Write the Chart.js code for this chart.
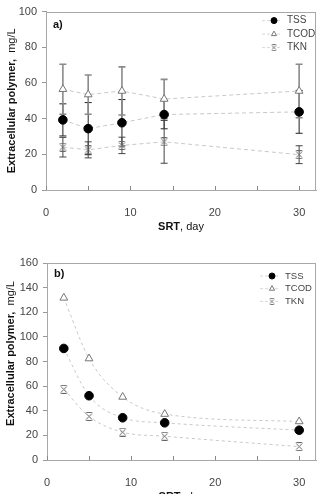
<!DOCTYPE html>
<html><head><meta charset="utf-8">
<script src="https://cdn.jsdelivr.net/npm/chart.js@4/dist/chart.umd.min.js"></script>
<style>
html,body{margin:0;padding:0;background:#fff;width:322px;height:494px;overflow:hidden;position:relative;}
.wrap{position:absolute;left:0;width:322px;}
#w1{top:0;height:240px}
#w2{top:240px;height:270px}
canvas{display:block}
</style></head><body>
<div class="wrap" id="w1"><canvas id="c1" width="322" height="240"></canvas></div>
<div class="wrap" id="w2"><canvas id="c2" width="322" height="270"></canvas></div>
<script>
// ---- data ----
const srtDays = [2, 5, 9, 14, 30];
const xTickValues = [0, 10, 20, 30];
const xMinorTicks = [0, 5, 10, 15, 20, 25, 30];
const yTicksA = [0, 20, 40, 60, 80, 100];
const yTicksB = [0, 20, 40, 60, 80, 100, 120, 140, 160];
const seriesNames = ['TSS', 'TCOD', 'TKN'];

// panel a) with standard deviations
const tssA = [39.3, 34.4, 37.7, 42.3, 43.8];
const tcodA = [56.5, 53.5, 55.5, 51.0, 55.5];
const tknA = [24.0, 22.5, 25.0, 27.0, 19.8];
const tssErrA = [9.0, 14.6, 13.0, 8.0, 12.0];
const tcodErrA = [14.0, 11.0, 13.5, 11.0, 15.0];
const tknErrA = [5.5, 4.5, 4.6, 12.0, 5.0];

// panel b)
const tssB = [90.6, 52.2, 34.3, 30.2, 24.2];
const tcodB = [131.7, 82.4, 51.2, 37.3, 31.3];
const tknB = [57.4, 35.4, 22.6, 19.3, 10.9];

// ---- helpers ----
const FONT = '"Liberation Sans", Arial, sans-serif';
function pts(ys) { return srtDays.map((x, i) => ({ x: x, y: ys[i] })); }
function makeTkn(color, size, lw) {
  const c = document.createElement('canvas');
  c.width = size; c.height = size;
  const g = c.getContext('2d');
  g.strokeStyle = color; g.lineWidth = lw;
  g.beginPath();
  g.moveTo(1.5, 1.5); g.lineTo(size - 1.5, size - 1.5);
  g.moveTo(size - 1.5, 1.5); g.lineTo(1.5, size - 1.5);
  g.moveTo(1.5, 0.5); g.lineTo(size - 1.5, 0.5);
  g.moveTo(1.5, size - 0.5); g.lineTo(size - 1.5, size - 0.5);
  g.stroke();
  return c;
}
const tknImg = makeTkn('#666', 9, 1);
const tknLegImg = makeTkn('#777', 7, 1);

function makeDatasets(tss, tcod, tkn, errs, tension, dash) {
  const base = { showLine: true, borderColor: '#c8c8c8', borderWidth: 1, borderDash: dash, tension: tension, cubicInterpolationMode: tension ? 'monotone' : 'default' };
  return [
    Object.assign({}, base, { label: seriesNames[0], data: pts(tss), pointStyle: 'circle', pointRadius: 4.3, pointBackgroundColor: '#000', pointBorderColor: '#000', pointBorderWidth: 1, errors: errs ? errs[0] : null, errColor: '#222', errWidth: 1 }),
    Object.assign({}, base, { label: seriesNames[1], data: pts(tcod), pointStyle: 'triangle', pointRadius: 4.5, pointBackgroundColor: '#fff', pointBorderColor: '#777', pointBorderWidth: 1, errors: errs ? errs[1] : null, errColor: '#8a8a8a', errWidth: 1.6 }),
    Object.assign({}, base, { label: seriesNames[2], data: pts(tkn), pointStyle: tknImg, pointRadius: 4.5, pointBackgroundColor: '#666', pointBorderColor: '#666', pointBorderWidth: 1, errors: errs ? errs[2] : null, errColor: '#444', errWidth: 1 })
  ];
}

const panelPlugin = {
  id: 'panel',
  beforeDatasetsDraw(chart, args, opts) {
    const ctx = chart.ctx, a = chart.chartArea, xs = chart.scales.x, ys = chart.scales.y;
    ctx.save();
    // frame
    ctx.strokeStyle = '#a8a8a8'; ctx.lineWidth = 1;
    ctx.strokeRect(Math.round(a.left) + 0.5, Math.round(a.top) + 0.5, Math.round(a.right - a.left) - 1, Math.round(a.bottom - a.top));
    // inward minor x ticks
    ctx.strokeStyle = '#888';
    ctx.beginPath();
    xMinorTicks.forEach(v => {
      const px = Math.round(xs.getPixelForValue(v)) + 0.5;
      ctx.moveTo(px, a.bottom); ctx.lineTo(px, a.bottom - 4);
    });
    ctx.stroke();
    // error bars
    chart.data.datasets.forEach(ds => {
      if (!ds.errors) return;
      ctx.strokeStyle = ds.errColor; ctx.lineWidth = ds.errWidth;
      ds.data.forEach((p, i) => {
        const px = xs.getPixelForValue(p.x);
        const yh = ys.getPixelForValue(p.y + ds.errors[i]);
        const yl = ys.getPixelForValue(p.y - ds.errors[i]);
        ctx.beginPath();
        ctx.moveTo(px, yh); ctx.lineTo(px, yl);
        ctx.moveTo(px - 3.5, yh); ctx.lineTo(px + 3.5, yh);
        ctx.moveTo(px - 3.5, yl); ctx.lineTo(px + 3.5, yl);
        ctx.stroke();
      });
    });
    ctx.restore();
  },
  afterDraw(chart, args, opts) {
    const ctx = chart.ctx, a = chart.chartArea;
    ctx.save();
    // panel letter
    ctx.fillStyle = '#111'; ctx.font = 'bold 11px ' + FONT;
    ctx.textBaseline = 'middle'; ctx.textAlign = 'left';
    ctx.fillText(opts.letter, a.left + 7, a.top + opts.letterDy);
    // legend
    ctx.font = opts.legendFont + 'px ' + FONT;
    chart.data.datasets.forEach((ds, i) => {
      const y = a.top + opts.legTop + i * opts.legDy;
      ctx.strokeStyle = '#d8d8d8'; ctx.lineWidth = 1; ctx.setLineDash([3, 2]);
      ctx.beginPath(); ctx.moveTo(opts.legX - 12, y); ctx.lineTo(opts.legX + 8, y); ctx.stroke();
      ctx.setLineDash([]);
      ctx.fillStyle = ds.pointBackgroundColor; ctx.strokeStyle = ds.pointBorderColor; ctx.lineWidth = 1;
      if (ds.label === 'TKN') {
        ctx.drawImage(tknLegImg, opts.legX - 3.5, y - 3.5);
      } else {
        Chart.helpers.drawPoint(ctx, { pointStyle: ds.pointStyle, radius: 3, rotation: 0, borderWidth: 1 }, opts.legX, y);
      }
      ctx.fillStyle = '#444';
      ctx.fillText(ds.label, opts.legX + 13, y);
    });
    // axis titles with mixed weights
    ctx.fillStyle = '#111';
    const yParts = [['bold 11px ' + FONT, 'Extracellular polymer,  '], ['11px ' + FONT, 'mg/L']];
    let tot = 0; yParts.forEach(p => { ctx.font = p[0]; tot += ctx.measureText(p[1]).width; });
    ctx.translate(opts.yTitleX, (a.top + a.bottom) / 2 + opts.yTitleShift);
    ctx.rotate(-Math.PI / 2);
    let cx = -tot / 2;
    yParts.forEach(p => { ctx.font = p[0]; ctx.fillText(p[1], cx, 0); cx += ctx.measureText(p[1]).width; });
    ctx.setTransform(1, 0, 0, 1, 0, 0);
    const xParts = [['bold 11px ' + FONT, 'SRT'], ['11px ' + FONT, ', day']];
    tot = 0; xParts.forEach(p => { ctx.font = p[0]; tot += ctx.measureText(p[1]).width; });
    cx = (a.left + a.right) / 2 - tot / 2;
    xParts.forEach(p => { ctx.font = p[0]; ctx.fillText(p[1], cx, a.bottom + 37); cx += ctx.measureText(p[1]).width; });
    ctx.restore();
  }
};

function makeOptions(yMax, yTicks, padTop, yWidth, pan) {
  return {
    responsive: false,
    animation: false,
    layout: { padding: { top: padTop, right: 6, left: 0, bottom: 0 } },
    plugins: { legend: { display: false }, tooltip: { enabled: false }, panel: pan },
    scales: {
      x: {
        type: 'linear', min: 0, max: 32,
        afterBuildTicks: s => { s.ticks = xTickValues.map(v => ({ value: v })); },
        afterFit: s => { s.height = 50; },
        grid: { display: false },
        border: { display: true, color: '#a8a8a8' },
        ticks: { padding: 8, color: '#444', font: { family: FONT, size: 11 } }
      },
      y: {
        min: 0, max: yMax,
        afterBuildTicks: s => { s.ticks = yTicks.map(v => ({ value: v })); },
        afterFit: s => { s.width = yWidth; },
        grid: { drawOnChartArea: false, drawTicks: true, tickLength: 4, color: '#999' },
        border: { display: true, color: '#a8a8a8' },
        ticks: { padding: 5, color: '#444', font: { family: FONT, size: 11 } }
      }
    }
  };
}

new Chart(document.getElementById('c1'), {
  type: 'scatter',
  data: { datasets: makeDatasets(tssA, tcodA, tknA, [tssErrA, tcodErrA, tknErrA], 0, [4, 3]) },
  options: makeOptions(100, yTicksA, 6, 46, { letter: 'a)', letterDy: 13, legX: 274, legTop: 9, legDy: 13.5, legendFont: 10, yTitleX: 12, yTitleShift: 0 }),
  plugins: [panelPlugin]
});

new Chart(document.getElementById('c2'), {
  type: 'scatter',
  data: { datasets: makeDatasets(tssB, tcodB, tknB, null, 0.4, [3, 3]) },
  options: makeOptions(160, yTicksB, 23, 47, { letter: 'b)', letterDy: 11, legX: 272, legTop: 13, legDy: 12.7, legendFont: 9.5, yTitleX: 11, yTitleShift: -8 }),
  plugins: [panelPlugin]
});
</script>
</body></html>
